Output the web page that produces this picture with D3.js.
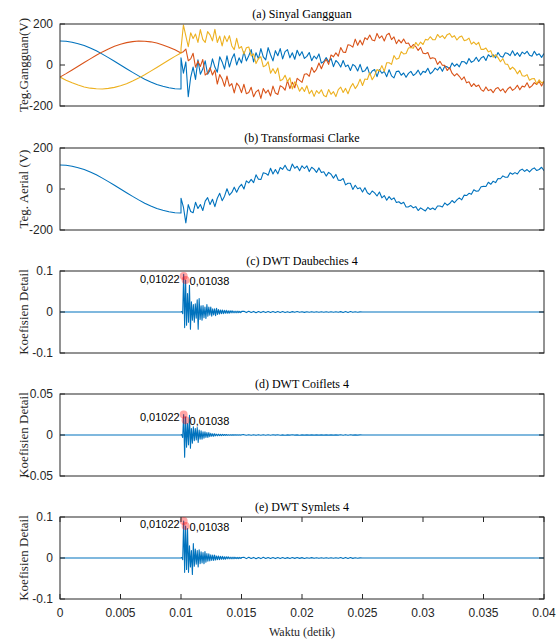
<!DOCTYPE html>
<html lang="en">
<head>
<meta charset="UTF-8">
<title>Sinyal Gangguan dan DWT</title>
<script src="https://d3js.org/d3.v7.min.js"></script>
<style>
    body { margin: 0; padding: 0; background: #fff; }
    svg { display: block; }
    .tick-label { font-family: "Liberation Sans", Arial, sans-serif; font-size: 12px; fill: #262626; }
    .title { font-family: "Liberation Serif", "Times New Roman", serif; font-size: 12px; fill: #000; }
    .ylabel, .xlabel { font-family: "Liberation Serif", "Times New Roman", serif; font-size: 13px; fill: #262626; }
    .note { font-family: "Liberation Sans", Arial, sans-serif; font-size: 11px; fill: #000; }
</style>
</head>
<body>
<div id="chart"></div>
<script>
// sampling
const dtPre = 0.0005, dtPost = 0.0002;
const dtDense = 0.00008, tDense0 = 0.00998, dtTail = 0.0002, tTail0 = 0.0152;

// before fault (0 .. 0.01 s)
const phaseAPre = [117, 116, 111, 104, 95, 83, 69, 53, 36, 18, 0, -18, -36, -53, -69, -83, -95, -104, -111, -116, -117];
const phaseBPre = [-59, -42, -24, -6, 12, 30, 48, 64, 78, 91, 101, 109, 114, 117, 116, 113, 107, 98, 87, 74, 59];
const phaseCPre = [-59, -74, -87, -98, -107, -113, -116, -117, -114, -109, -101, -91, -78, -64, -48, -30, -12, 6, 24, 42, 59];
const aerialPre = [117, 116, 111, 104, 95, 83, 69, 53, 36, 18, 0, -18, -36, -53, -69, -83, -95, -104, -111, -116, -117];

// after fault (0.01 .. 0.04 s)
const phaseAPost = [
    35, -40, 15, -155, -60, -10, -70, 25, -45, -20,
    20, -45, -25, 30, -10, -35, 40, 15, -20, 45,
    -10, 30, 55, 0, 35, 10, 65, 20, 45, 75,
    15, 60, 30, 80, 40, 25, 85, 50, 20, 70,
    45, 80, 30, 65, 75, 35, 60, 28, 72, 45,
    65, 32, 42, 61, 21, 44, 30, 54, 9, 17,
    36, 16, 32, -8, 22, 10, -10, 22, -8, 0,
    -27, 3, -6, -29, 3, -33, -28, -9, -47, -29,
    -22, -57, -22, -40, -31, -57, -23, -53, -63, -32,
    -30, -50, -39, -60, -41, -31, -51, -42, -25, -49,
    -31, -36, -16, -43, -33, -15, -25, -9, -31, -6,
    -9, -18, 10, -6, 5, -9, 17, 16, 5, 32,
    13, 20, 38, 17, 34, 42, 22, 50, 40, 50,
    35, 61, 43, 38, 60, 56, 46, 69, 46, 60,
    42, 63, 54, 67, 48, 43, 67, 48, 55, 37,
    56];
const phaseBPost = [
    60, 65, 78, 21, 30, 57, -11, 19, -7, 27,
    -49, -39, -13, -49, -25, -93, -47, -68, -104, -54,
    -103, -91, -136, -88, -103, -135, -94, -140, -134, -109,
    -155, -131, -121, -163, -115, -137, -122, -151, -103, -137,
    -144, -101, -108, -123, -76, -115, -84, -111, -65, -75,
    -85, -45, -43, -55, -12, -36, -21, 10, -18, 10,
    28, 3, 49, 40, 59, 43, 85, 63, 61, 99,
    96, 87, 126, 96, 121, 98, 133, 124, 146, 122,
    118, 154, 131, 142, 117, 147, 155, 124, 137, 104,
    123, 108, 127, 105, 107, 85, 100, 90, 71, 86,
    58, 55, 61, 31, 35, 32, 3, 18, -1, -2,
    -27, -12, -40, -53, -42, -55, -72, -58, -87, -82,
    -105, -91, -105, -98, -120, -128, -107, -125, -119, -135,
    -116, -110, -127, -116, -135, -117, -107, -124, -115, -99,
    -121, -103, -107, -87, -111, -102, -86, -95, -80, -102,
    -79];
const phaseCPost = [
    80, 195, 142, 89, 157, 129, 151, 110, 173, 125,
    110, 163, 147, 118, 174, 110, 141, 93, 142, 114,
    143, 93, 75, 130, 81, 90, 53, 84, 88, 44,
    54, 7, 32, 40, -8, -3, 16, -40, -18, -41,
    -15, -77, -71, -50, -81, -62, -117, -82, -99, -128,
    -109, -129, -101, -140, -123, -153, -125, -139, -121, -149,
    -155, -120, -143, -130, -154, -120, -108, -134, -114, -140,
    -109, -90, -115, -98, -69, -100, -68, -71, -38, -72,
    -52, -22, -30, -3, -31, 11, 11, 3, 46, 28,
    33, 65, 54, 56, 83, 85, 82, 110, 94, 112,
    100, 125, 122, 138, 124, 123, 149, 134, 143, 129,
    148, 154, 135, 143, 122, 136, 141, 119, 122, 131,
    102, 112, 99, 110, 76, 76, 83, 64, 70, 38,
    50, 36, 16, 31, 5, 3, -22, -10, -22, -43,
    -26, -52, -55, -47, -74, -67, -66, -92, -72, -87,
    -82];
const aerialPost = [
    -45, -88, -165, -76, -110, -116, -65, -95, -76, -105,
    -59, -42, -76, -50, -86, -45, -21, -57, -35, 1,
    -30, -17, 9, -16, 9, 23, 0, 40, 30, 47,
    31, 69, 48, 46, 79, 76, 67, 101, 73, 95,
    74, 105, 96, 116, 94, 89, 122, 101, 111, 89,
    113, 100, 113, 85, 106, 97, 81, 103, 80, 84,
    63, 81, 72, 53, 71, 43, 42, 51, 20, 28,
    28, -2, 18, 1, 6, -15, 6, -18, -27, -10,
    -19, -34, -15, -43, -32, -55, -37, -52, -43, -66,
    -62, -72, -65, -88, -87, -81, -92, -86, -105, -92,
    -100, -107, -90, -100, -93, -101, -83, -83, -88, -68,
    -79, -71, -56, -67, -53, -43, -53, -30, -32, -21,
    -26, -4, -11, -9, 11, 13, 12, 33, 23, 38,
    31, 51, 50, 64, 57, 58, 79, 72, 80, 73,
    90, 97, 86, 95, 83, 96, 103, 90, 95, 106,
    89];

// detail coefficients, dense part from 0.00998 s
const db4Dense = [
    0, 0.001, -0.004, 0.092, -0.038, 0.078, -0.032, 0.045, -0.025, 0.065,
    -0.042, 0.025, -0.02, 0.018, -0.025, 0.02, -0.015, 0.03, -0.042, 0.033,
    -0.018, 0.015, -0.02, 0.016, -0.014, 0.012, -0.016, 0.018, -0.01, 0.012,
    -0.008, 0.012, -0.01, 0.008, -0.007, 0.008, -0.009, 0.009, -0.006, 0.006,
    -0.005, 0.005, -0.004, 0.005, -0.004, 0.004, -0.003, 0.004, -0.003, 0.003,
    -0.003, 0.003, -0.002, 0.003, -0.002, 0.002, -0.002, 0.002, -0.002, 0.002,
    -0.0015, 0.0015, -0.0015, 0.0015];
const db4Tail = [
    0.0016, -0.0014, 0.0018, -0.0012, 0.0014, -0.0016, 0.0012, -0.0014, 0.0015, -0.001,
    0.0012, -0.0012, 0.001, -0.0013, 0.0011, -0.001, 0.001, -0.0011, 0.0008, -0.001,
    0.0009, -0.0008, 0.001, -0.0008, 0.0008, -0.0009, 0.0007, -0.0006, 0.0008, -0.0007,
    0.0006, -0.0007, 0.0006, -0.0006, 0.0007, -0.0006, 0.0006, -0.0006, 0.0005, -0.0006,
    0.0009, -0.001, 0.0012, -0.001, 0.001, -0.0008, 0.0006, -0.0005, 0.0004, 0];
const coif4Dense = [
    0, 0.0005, -0.003, 0.025, -0.027, 0.022, -0.015, 0.014, -0.012, 0.024,
    -0.016, 0.008, -0.01, 0.01, -0.007, 0.008, -0.006, 0.009, -0.009, 0.006,
    -0.005, 0.005, -0.005, 0.004, -0.004, 0.004, -0.003, 0.003, -0.003, 0.003,
    -0.002, 0.002, -0.0015, 0.0015, -0.0015, 0.0015, -0.001, 0.001, -0.001, 0.001,
    -0.0008, 0.0008, -0.0007, 0.0008, -0.0006, 0.0006, -0.0005, 0.0006, -0.0005, 0.0005,
    -0.0004, 0.0005, -0.0004, 0.0004, -0.0004, 0.0004, -0.0003, 0.0004, -0.0003, 0.0003,
    -0.0003, 0.0003, -0.0003, 0.0003];
const coif4Tail = [
    0.0004, -0.0003, 0.0004, -0.0004, 0.0003, -0.0004, 0.0004, -0.0003, 0.0003, -0.0003,
    0.0003, -0.0003, 0.0003, -0.0002, 0.0003, -0.0003, 0.0002, -0.0003, 0.0002, -0.0002,
    0.0003, -0.0002, 0.0002, -0.0003, 0.0002, -0.0002, 0.0002, -0.0002, 0.0002, -0.0002,
    0.0002, -0.0002, 0.0002, -0.0002, 0.0002, -0.0002, 0.0002, -0.0002, 0.0002, -0.0002,
    0.0003, -0.0003, 0.0004, -0.0003, 0.0003, -0.0002, 0.0002, -0.0002, 0.0001, 0];
const sym4Dense = [
    0, 0.001, -0.004, 0.09, -0.035, 0.078, -0.028, 0.072, -0.035, 0.03,
    -0.022, 0.018, -0.04, 0.035, -0.02, 0.022, -0.015, 0.018, -0.022, 0.02,
    -0.014, 0.015, -0.012, 0.013, -0.014, 0.016, -0.01, 0.011, -0.008, 0.01,
    -0.007, 0.008, -0.006, 0.007, -0.006, 0.007, -0.005, 0.005, -0.004, 0.005,
    -0.004, 0.004, -0.003, 0.004, -0.003, 0.003, -0.003, 0.003, -0.002, 0.003,
    -0.002, 0.002, -0.002, 0.002, -0.002, 0.002, -0.0015, 0.0015, -0.0015, 0.0015,
    -0.0015, 0.0015, -0.0012, 0.0012];
const sym4Tail = [
    0.0016, -0.0015, 0.0018, -0.0013, 0.0015, -0.0016, 0.0013, -0.0015, 0.0016, -0.0011,
    0.0013, -0.0012, 0.0011, -0.0014, 0.0012, -0.0011, 0.0011, -0.0012, 0.0009, -0.0011,
    0.001, -0.0009, 0.0011, -0.0009, 0.0009, -0.001, 0.0008, -0.0007, 0.0009, -0.0008,
    0.0007, -0.0008, 0.0007, -0.0007, 0.0008, -0.0007, 0.0007, -0.0007, 0.0006, -0.0007,
    0.001, -0.0011, 0.0013, -0.0011, 0.0011, -0.0009, 0.0007, -0.0006, 0.0004, 0];

// data tips
const tipTimes = [0.01022, 0.01038];
const tipLabels = ["0,01022", "0,01038"];
const db4Tips = [0.088, 0.078];
const coif4Tips = [0.025, 0.018];
const sym4Tips = [0.09, 0.078];

const xTicks = [0, 0.005, 0.01, 0.015, 0.02, 0.025, 0.03, 0.035, 0.04];
const xTickLabels = ["0", "0.005", "0.01", "0.015", "0.02", "0.025", "0.03", "0.035", "0.04"];

const colors = ["#0072BD", "#D95319", "#EDB120"];

const W = 560, H = 640;
const left = 60, right = 544, plotH = 82;
const tops = [24, 148, 271, 394, 517];

const svg = d3.select("#chart").append("svg")
    .attr("width", W)
    .attr("height", H);

const x = d3.scaleLinear().domain([0, 0.04]).range([left, right]);

function joinSignal(pre, post) {
    const a = pre.map((v, i) => [i * dtPre, v]);
    const b = post.map((v, i) => [0.01 + i * dtPost, v]);
    return a.concat(b);
}

function detailSignal(dense, tail) {
    const pts = [[0, 0]];
    dense.forEach((v, i) => pts.push([tDense0 + i * dtDense, v]));
    tail.forEach((v, i) => pts.push([tTail0 + i * dtTail, v]));
    pts.push([0.04, 0]);
    return pts;
}

const panels = [
    {title: "(a) Sinyal Gangguan", ylabel: "Teg.Gangguan(V)", domain: [-200, 200], ticks: [-200, 0, 200],
     series: [joinSignal(phaseAPre, phaseAPost), joinSignal(phaseBPre, phaseBPost), joinSignal(phaseCPre, phaseCPost)]},
    {title: "(b) Transformasi Clarke", ylabel: "Teg. Aerial (V)", domain: [-200, 200], ticks: [-200, 0, 200],
     series: [joinSignal(aerialPre, aerialPost)]},
    {title: "(c) DWT Daubechies 4", ylabel: "Koefisien Detail", domain: [-0.1, 0.1], ticks: [-0.1, 0, 0.1],
     series: [detailSignal(db4Dense, db4Tail)], tips: db4Tips},
    {title: "(d) DWT Coiflets 4", ylabel: "Koefisien Detail", domain: [-0.05, 0.05], ticks: [-0.05, 0, 0.05],
     series: [detailSignal(coif4Dense, coif4Tail)], tips: coif4Tips},
    {title: "(e) DWT Symlets 4", ylabel: "Koefisien Detail", domain: [-0.1, 0.1], ticks: [-0.1, 0, 0.1],
     series: [detailSignal(sym4Dense, sym4Tail)], tips: sym4Tips}
];

panels.forEach((p, pi) => {
    const top = tops[pi];
    const y = d3.scaleLinear().domain(p.domain).range([top + plotH, top]);
    const g = svg.append("g");

    // clip so spikes stay inside the box
    const clipId = "clip" + pi;
    svg.append("clipPath").attr("id", clipId)
        .append("rect").attr("x", left).attr("y", top).attr("width", right - left).attr("height", plotH);

    const line = d3.line().x(d => x(d[0])).y(d => y(d[1]));
    const lines = g.append("g").attr("clip-path", `url(#${clipId})`);
    p.series.forEach((s, si) => {
        lines.append("path")
            .datum(s)
            .attr("d", line)
            .attr("fill", "none")
            .attr("stroke", colors[si])
            .attr("stroke-width", 1.1)
            .attr("stroke-linejoin", "round");
    });

    // y ticks on both sides
    p.ticks.forEach(t => {
        g.append("line").attr("x1", left).attr("x2", left + 5)
            .attr("y1", y(t)).attr("y2", y(t)).attr("stroke", "#262626");
        g.append("line").attr("x1", right - 5).attr("x2", right)
            .attr("y1", y(t)).attr("y2", y(t)).attr("stroke", "#262626");
        g.append("text").attr("class", "tick-label")
            .attr("x", left - 7).attr("y", y(t)).attr("dy", "0.35em")
            .attr("text-anchor", "end")
            .text(String(t));
    });

    // box
    g.append("rect")
        .attr("x", left).attr("y", top)
        .attr("width", right - left).attr("height", plotH)
        .attr("fill", "none").attr("stroke", "#262626").attr("stroke-width", 1);

    g.append("text").attr("class", "title")
        .attr("x", (left + right) / 2).attr("y", top - 6)
        .attr("text-anchor", "middle")
        .text(p.title);

    g.append("text").attr("class", "ylabel")
        .attr("transform", `translate(28,${top + plotH / 2}) rotate(-90)`)
        .attr("text-anchor", "middle")
        .text(p.ylabel);

    if (p.tips) {
        tipTimes.forEach((t, i) => {
            g.append("circle")
                .attr("cx", x(t)).attr("cy", y(p.tips[i])).attr("r", 4)
                .attr("fill", "#ff0000").attr("fill-opacity", 0.35);
        });
        g.append("text").attr("class", "note")
            .attr("x", x(tipTimes[0]) - 4).attr("y", y(p.tips[0]) + 3)
            .attr("dy", "0.35em").attr("text-anchor", "end")
            .text(tipLabels[0]);
        g.append("text").attr("class", "note")
            .attr("x", x(tipTimes[1]) + 4).attr("y", y(p.tips[1]) + 1)
            .attr("dy", "0.35em").attr("text-anchor", "start")
            .text(tipLabels[1]);
    }

    // x axis only on the last panel
    if (pi === panels.length - 1) {
        xTicks.forEach((t, i) => {
            g.append("line").attr("x1", x(t)).attr("x2", x(t))
                .attr("y1", top + plotH).attr("y2", top + plotH - 5).attr("stroke", "#262626");
            g.append("line").attr("x1", x(t)).attr("x2", x(t))
                .attr("y1", top).attr("y2", top + 5).attr("stroke", "#262626");
            g.append("text").attr("class", "tick-label")
                .attr("x", x(t)).attr("y", top + plotH + 14)
                .attr("dy", "0.35em").attr("text-anchor", "middle")
                .text(xTickLabels[i]);
        });
        g.append("text").attr("class", "xlabel")
            .attr("x", (left + right) / 2).attr("y", top + plotH + 37)
            .attr("text-anchor", "middle")
            .style("font-size", "12px")
            .text("Waktu (detik)");
    }
});
</script>
</body>
</html>
